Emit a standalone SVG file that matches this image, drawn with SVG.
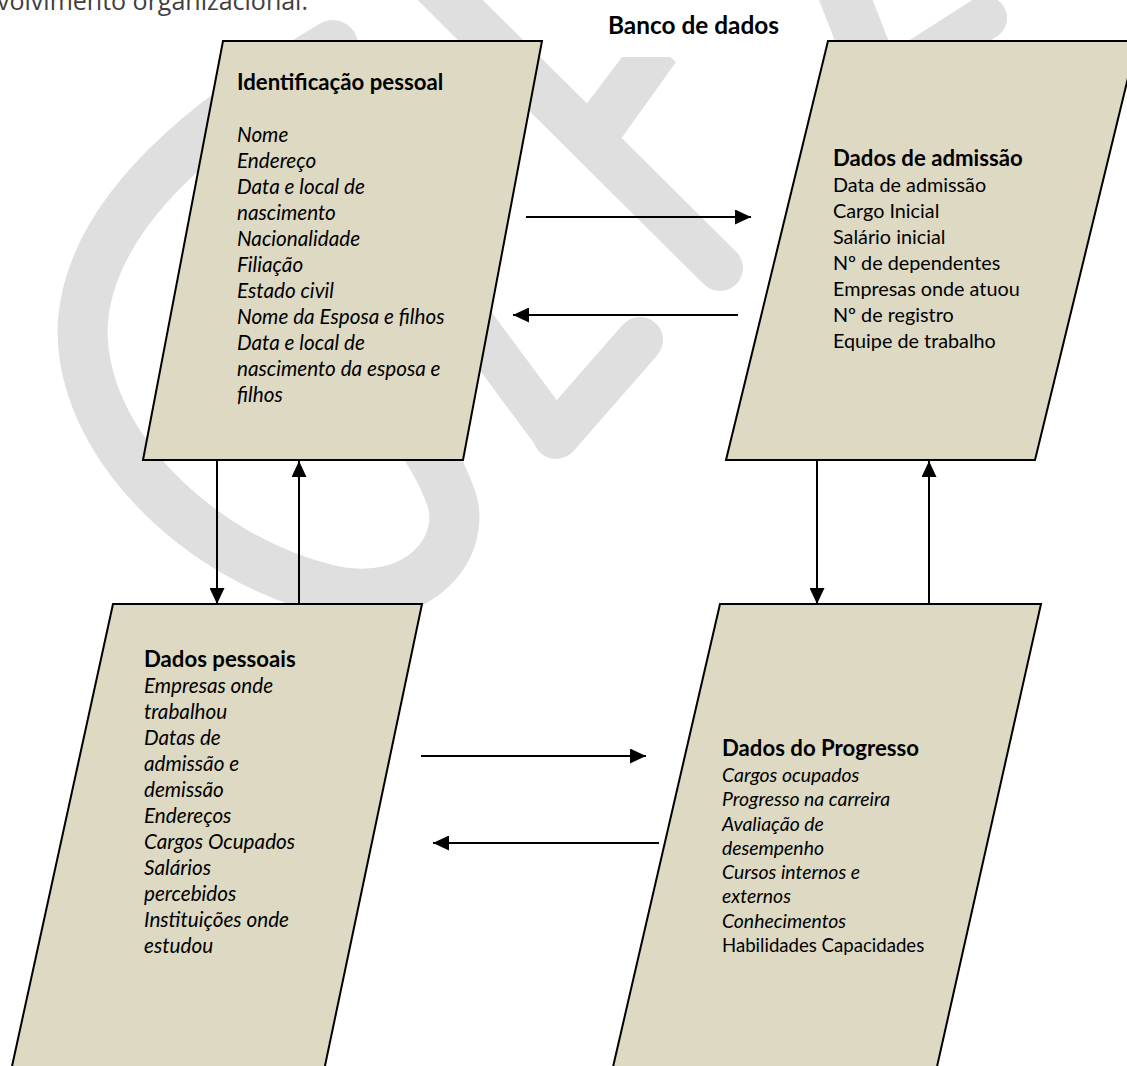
<svg xmlns="http://www.w3.org/2000/svg" width="1127" height="1066" viewBox="0 0 1127 1066">
  <style>
    .wm { fill: none; stroke: #dfdfdf; stroke-linecap: round; stroke-linejoin: round; }
    .box { fill: #ddd9c3; stroke: #000; stroke-width: 2; stroke-linejoin: miter; }
    .t { font-family: Lato, "Liberation Sans", sans-serif; font-size: 19.8px; fill: #000; }
    .b { font-weight: bold; font-size: 22.2px; }
    .i { font-style: italic; font-size: 20.7px; }
    .i4 { font-style: italic; font-size: 19.4px; }
    .r4 { font-size: 18.6px; }
    .banco { font-size: 24.4px; }
    .conn line { stroke: #000; stroke-width: 2; }
    .top { font-family: "Open Sans", "Liberation Sans", sans-serif; font-size: 25px; fill: #404040; }
  </style>
  <defs>
    <marker id="ah" markerUnits="userSpaceOnUse" markerWidth="16" markerHeight="15" refX="16" refY="7.5" orient="auto">
      <path d="M0,0 L16,7.5 L0,15 z" fill="#000"/>
    </marker>
  </defs>
  <rect width="1127" height="1066" fill="#fff"/>

  <g id="watermark">
    <path class="wm" stroke-width="50" d="M333,45 C250,95 95,190 83,320 C75,440 200,560 330,590 C420,610 470,545 450,495 C438,462 420,435 395,410"/>
    <path class="wm" stroke-width="46" d="M420,-30 L720,268"/>
    <polygon points="622,57 670,57 676,62 618,143 582,110" fill="#dfdfdf"/>
    <path class="wm" stroke-width="46" d="M640,340 L556,436"/>
    <path class="wm" stroke-width="44" d="M470,320 L556,436"/>
    <path class="wm" stroke-width="50" d="M840,-15 L875,75"/>
    <path class="wm" stroke-width="44" d="M985,18 L880,85"/>
  </g>

  <text class="top" x="-3" y="10">volvimento organizacional.</text>
  <text class="t b banco" x="608" y="34">Banco de dados</text>

  <g id="node-identificacao">
    <polygon class="box" points="223,41 542,41 463,460 143,460"/>
    <text class="t b" x="237" y="90">Identificação pessoal</text>
    <text class="t i" x="237" y="142">Nome</text>
    <text class="t i" x="237" y="168">Endereço</text>
    <text class="t i" x="237" y="194">Data e local de</text>
    <text class="t i" x="237" y="220">nascimento</text>
    <text class="t i" x="237" y="246">Nacionalidade</text>
    <text class="t i" x="237" y="272">Filiação</text>
    <text class="t i" x="237" y="298">Estado civil</text>
    <text class="t i" x="237" y="324">Nome da Esposa e filhos</text>
    <text class="t i" x="237" y="350">Data e local de</text>
    <text class="t i" x="237" y="376">nascimento da esposa e</text>
    <text class="t i" x="237" y="402">filhos</text>
  </g>

  <g id="node-admissao">
    <polygon class="box" points="828,41 1137,41 1035,460 726,460"/>
    <text class="t b" x="833" y="166">Dados de admissão</text>
    <text class="t" x="833" y="192">Data de admissão</text>
    <text class="t" x="833" y="218">Cargo Inicial</text>
    <text class="t" x="833" y="244">Salário inicial</text>
    <text class="t" x="833" y="270">Nº de dependentes</text>
    <text class="t" x="833" y="296">Empresas onde atuou</text>
    <text class="t" x="833" y="322">Nº de registro</text>
    <text class="t" x="833" y="348">Equipe de trabalho</text>
  </g>

  <g id="node-pessoais">
    <polygon class="box" points="113,604 422,604 322,1080 9,1080"/>
    <text class="t b" x="144" y="667">Dados pessoais</text>
    <text class="t i" x="144" y="693">Empresas onde</text>
    <text class="t i" x="144" y="719">trabalhou</text>
    <text class="t i" x="144" y="745">Datas de</text>
    <text class="t i" x="144" y="771">admissão e</text>
    <text class="t i" x="144" y="797">demissão</text>
    <text class="t i" x="144" y="823">Endereços</text>
    <text class="t i" x="144" y="849">Cargos Ocupados</text>
    <text class="t i" x="144" y="875">Salários</text>
    <text class="t i" x="144" y="901">percebidos</text>
    <text class="t i" x="144" y="927">Instituições onde</text>
    <text class="t i" x="144" y="953">estudou</text>
  </g>

  <g id="node-progresso">
    <polygon class="box" points="720,604 1041,604 934,1080 610,1080"/>
    <text class="t b" x="722" y="756">Dados do Progresso</text>
    <text class="t i4" x="722" y="782">Cargos ocupados</text>
    <text class="t i4" x="722" y="806">Progresso na carreira</text>
    <text class="t i4" x="722" y="831">Avaliação de</text>
    <text class="t i4" x="722" y="855">desempenho</text>
    <text class="t i4" x="722" y="879">Cursos internos e</text>
    <text class="t i4" x="722" y="903">externos</text>
    <text class="t i4" x="722" y="928">Conhecimentos</text>
    <text class="t r4" x="722" y="952">Habilidades Capacidades</text>
  </g>

  <g id="connectors" class="conn">
    <line x1="526" y1="217" x2="751" y2="217" marker-end="url(#ah)"/>
    <line x1="738" y1="315" x2="513" y2="315" marker-end="url(#ah)"/>
    <line x1="217" y1="460" x2="217" y2="604" marker-end="url(#ah)"/>
    <line x1="299" y1="604" x2="299" y2="461" marker-end="url(#ah)"/>
    <line x1="817" y1="460" x2="817" y2="604" marker-end="url(#ah)"/>
    <line x1="929" y1="604" x2="929" y2="461" marker-end="url(#ah)"/>
    <line x1="421" y1="756" x2="646" y2="756" marker-end="url(#ah)"/>
    <line x1="659" y1="843" x2="433" y2="843" marker-end="url(#ah)"/>
  </g>
</svg>
